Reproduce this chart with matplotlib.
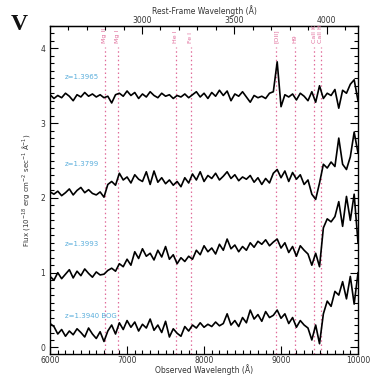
import numpy as np
import matplotlib
matplotlib.use("Agg")
import matplotlib.pyplot as plt
from matplotlib.ticker import MultipleLocator

# ---------------- data ----------------
wave = np.arange(6000, 10001, 50)

flux_a = [3.38, 3.33, 3.37, 3.34, 3.40, 3.36, 3.30, 3.38, 3.35, 3.41,
          3.36, 3.39, 3.35, 3.38, 3.34, 3.36, 3.27, 3.38, 3.40, 3.36,
          3.43, 3.37, 3.41, 3.33, 3.39, 3.35, 3.42, 3.37, 3.34, 3.40,
          3.36, 3.38, 3.33, 3.37, 3.35, 3.39, 3.34, 3.38, 3.42, 3.35,
          3.40, 3.33, 3.41, 3.36, 3.44, 3.37, 3.43, 3.30, 3.39, 3.36,
          3.42, 3.35, 3.28, 3.37, 3.34, 3.36, 3.33, 3.40, 3.42, 3.82,
          3.22, 3.38, 3.35, 3.39, 3.31, 3.40, 3.36, 3.30, 3.42, 3.28,
          3.50, 3.33, 3.40, 3.37, 3.45, 3.20, 3.44, 3.40, 3.52, 3.58,
          3.30]

flux_b = [2.08, 2.05, 2.09, 2.03, 2.07, 2.12, 2.04, 2.10, 2.14, 2.07,
          2.11, 2.06, 2.04, 2.08, 2.01, 2.18, 2.22, 2.17, 2.33, 2.24,
          2.28, 2.20, 2.31, 2.25, 2.22, 2.35, 2.18, 2.36, 2.21, 2.27,
          2.19, 2.24, 2.17, 2.22, 2.15, 2.27, 2.20, 2.32, 2.24, 2.35,
          2.22, 2.30, 2.26, 2.33, 2.24, 2.29, 2.35, 2.26, 2.31, 2.23,
          2.28, 2.25, 2.30, 2.21, 2.27, 2.18, 2.26, 2.20, 2.33, 2.38,
          2.27, 2.36, 2.22, 2.34, 2.25, 2.31, 2.18, 2.24, 2.05, 1.98,
          2.20, 2.45, 2.40, 2.48, 2.42, 2.80, 2.45, 2.38, 2.55, 2.88,
          2.60]

flux_c = [0.95, 0.90, 1.00, 0.92, 0.98, 1.04, 0.93, 1.02, 0.96, 1.05,
          0.99, 0.94, 1.01, 0.97, 0.98, 1.03, 1.06, 1.02, 1.12, 1.08,
          1.18, 1.10, 1.28, 1.19, 1.32, 1.22, 1.26, 1.17, 1.30, 1.21,
          1.35, 1.18, 1.24, 1.12, 1.20, 1.15, 1.22, 1.18, 1.30, 1.24,
          1.36, 1.28, 1.33, 1.25, 1.38, 1.30, 1.45, 1.32, 1.37, 1.28,
          1.35, 1.30, 1.40, 1.34, 1.42, 1.38, 1.44, 1.36, 1.41, 1.45,
          1.33, 1.40, 1.27, 1.35, 1.22, 1.36, 1.30, 1.25, 1.10, 1.26,
          1.08, 1.60, 1.72, 1.68, 1.75, 1.95, 1.62, 2.02, 1.70, 2.05,
          1.40]

flux_d = [0.32, 0.28, 0.18, 0.24, 0.15, 0.22, 0.17, 0.25, 0.20, 0.14,
          0.26, 0.18, 0.12, 0.21, 0.08, 0.22, 0.30, 0.18, 0.33, 0.24,
          0.36, 0.27, 0.34, 0.22, 0.31, 0.26, 0.38, 0.23, 0.30, 0.20,
          0.35, 0.14, 0.25, 0.19, 0.15, 0.28, 0.22, 0.30, 0.26, 0.33,
          0.27, 0.31, 0.28, 0.34, 0.29, 0.32, 0.45, 0.30, 0.36, 0.28,
          0.40, 0.33, 0.50, 0.38, 0.44, 0.35, 0.48, 0.40, 0.43, 0.50,
          0.39, 0.45, 0.32, 0.40, 0.27, 0.36, 0.30, 0.26, 0.10, 0.30,
          0.05, 0.45, 0.62, 0.55, 0.75, 0.70, 0.88, 0.65, 0.95, 0.58,
          1.00]

spectra = [flux_a, flux_b, flux_c, flux_d]
spec_labels = ["z=1.3965", "z=1.3799", "z=1.3993", "z=1.3940 BOG"]
label_y = [3.62, 2.46, 1.39, 0.42]

line_names = ["Mg II", "Mg I", "He I", "Fe I", "[OII]", "H9", "CaII K", "CaII H"]
line_obs = [6712, 6880, 7630, 7825, 8937, 9180, 9433, 9518]

z_mean = 1.398

# ---------------- figure ----------------
fig = plt.figure(figsize=(3.71, 3.76), dpi=100)
ax = fig.add_axes([0.135, 0.058, 0.830, 0.873])

pink = "#e06c9a"
for w in line_obs:
    ax.plot([w, w], [-0.09, 4.02], color=pink, lw=0.9,
            linestyle=(0, (1.2, 2.2)), zorder=1)
for w, name in zip(line_obs, line_names):
    ax.text(w, 4.07, name, rotation=90, color=pink, fontsize=4.5,
            ha="center", va="bottom", zorder=3)

for f in spectra:
    ax.plot(wave, f, color="black", lw=1.2, zorder=2)

for s, yy in zip(spec_labels, label_y):
    ax.text(6190, yy, s, color="#5aaedc", fontsize=5, ha="left",
            va="center")

ax.set_xlim(6000, 10000)
ax.set_ylim(-0.09, 4.3)
ax.xaxis.set_major_locator(MultipleLocator(1000))
ax.xaxis.set_minor_locator(MultipleLocator(100))
ax.yaxis.set_major_locator(MultipleLocator(1))
ax.yaxis.set_minor_locator(MultipleLocator(0.1))
ax.tick_params(which="both", direction="in", right=True, top=False,
               labelsize=5.5, labelcolor="#333333", width=0.8)
ax.tick_params(axis="x", pad=1.5)
ax.tick_params(which="major", length=6)
ax.tick_params(which="minor", length=3)
for sp in ax.spines.values():
    sp.set_linewidth(1.0)

ax.set_xlabel("Observed Wavelength (Å)", fontsize=5.5, color="#333333",
              labelpad=-0.5)
ax.set_ylabel(r"Flux (10$^{-18}$ erg cm$^{-2}$ sec$^{-1}$ Å$^{-1}$)",
              fontsize=5, color="#333333", labelpad=6)

sec = ax.secondary_xaxis("top", functions=(lambda x: x / (1 + z_mean),
                                           lambda x: x * (1 + z_mean)))
sec.xaxis.set_major_locator(MultipleLocator(500))
sec.xaxis.set_minor_locator(MultipleLocator(100))
sec.tick_params(which="both", direction="in", labelsize=5.5,
                labelcolor="#333333", width=0.8, pad=1)
sec.tick_params(which="major", length=6)
sec.tick_params(which="minor", length=3)
sec.set_xlabel("Rest-Frame Wavelength (Å)", fontsize=5.5, color="#333333",
               labelpad=1)

fig.text(0.03, 0.935, "V", fontsize=17, fontweight="bold",
         family="Liberation Serif", color="#111111", va="center")

fig.savefig("out.png", dpi=100)
